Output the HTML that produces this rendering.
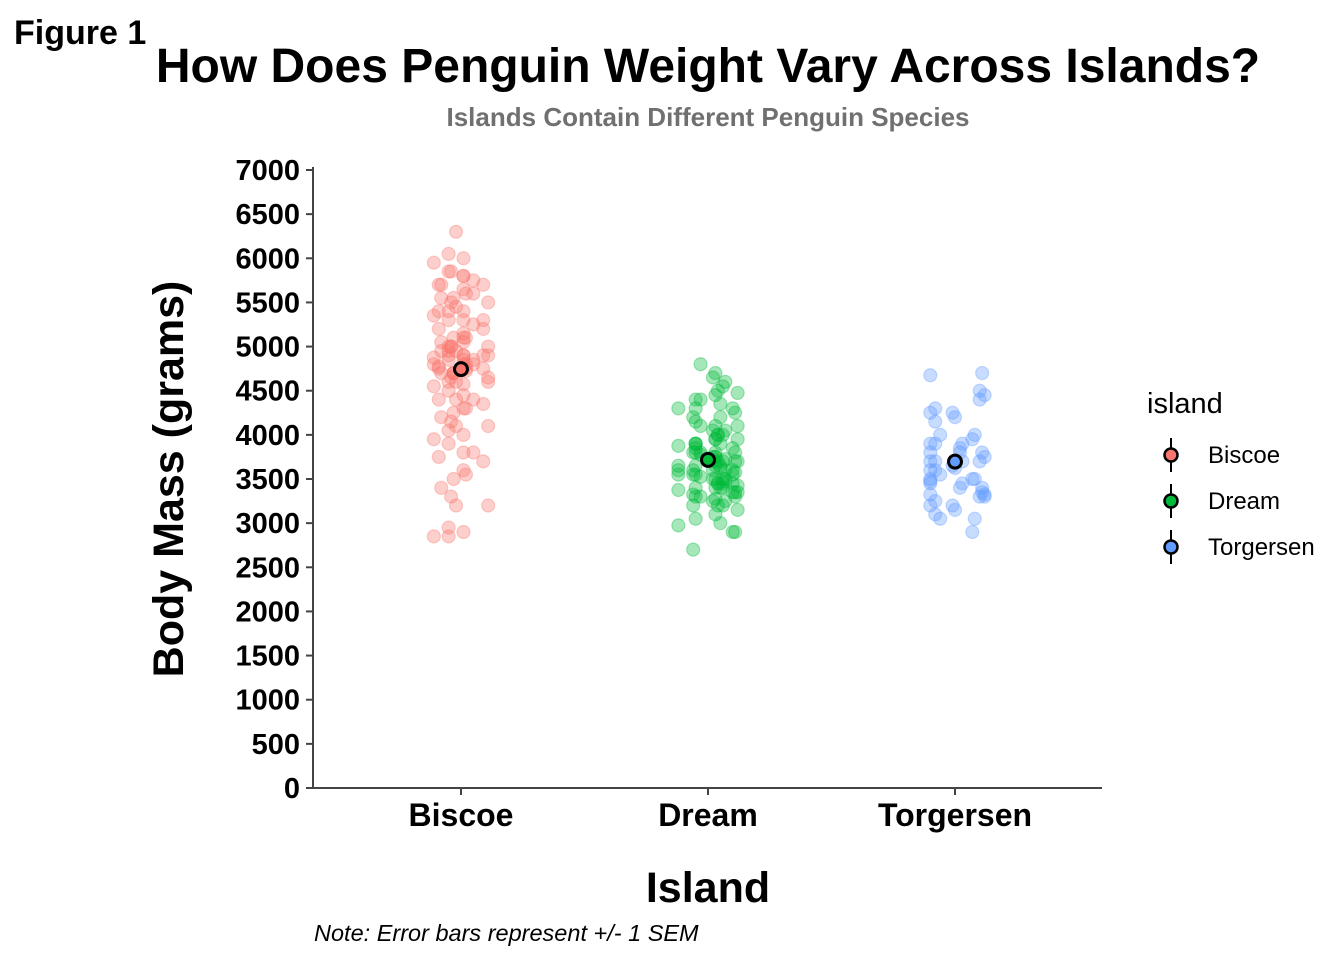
<!DOCTYPE html>
<html><head><meta charset="utf-8"><style>
body{margin:0;background:#fff;}
svg text{font-family:"Liberation Sans",Arial,sans-serif;}
</style></head><body>
<svg id="chart" width="1344" height="960" xmlns="http://www.w3.org/2000/svg">
<text x="14" y="44" font-size="34" font-weight="bold">Figure 1</text>
<text x="708" y="82" font-size="48" font-weight="bold" text-anchor="middle">How Does Penguin Weight Vary Across Islands?</text>
<text x="708" y="126" font-size="26" font-weight="bold" fill="#707070" text-anchor="middle">Islands Contain Different Penguin Species</text>
<g id="yaxis"></g>
<g id="xaxis"></g>
<g id="points"></g>
<g id="means"></g>
<line x1="313" y1="167" x2="313" y2="788" stroke="#444" stroke-width="2"/>
<line x1="312" y1="788" x2="1102" y2="788" stroke="#444" stroke-width="2"/>
<text transform="translate(183,479) rotate(-90)" font-size="43" font-weight="bold" text-anchor="middle">Body Mass (grams)</text>
<text x="708" y="902" font-size="43" font-weight="bold" text-anchor="middle">Island</text>
<text x="314" y="941" font-size="23.5" font-style="italic">Note: Error bars represent +/- 1 SEM</text>
<g id="legend">
<text x="1147" y="413" font-size="29">island</text>
</g>
</svg>
<script>
const categories = ["Biscoe","Dream","Torgersen"];
const colors = ["#F8766D","#00BA38","#619CFF"];
const yTicks = [0,500,1000,1500,2000,2500,3000,3500,4000,4500,5000,5500,6000,6500,7000];
const biscoeMass = [6300,6050,6000,5950,5850,5800,5750,5700,5700,5650,5600,5550,5550,5500,5500,5450,5400,5400,5350,5300,5300,5250,5200,5200,5150,5100,5100,5050,5000,5000,4950,4900,4900,4875,4850,4800,4800,4775,4750,4750,4725,4700,4700,4650,4650,4600,4600,4575,4550,4500,4450,4400,4400,4350,4300,4300,4250,4200,4150,4100,4100,4050,4000,3950,3900,3800,3800,3750,3700,3600,3550,3500,3400,3300,3200,3200,2950,2900,2850,2850,5800,5600,5400,5300,4850,4750,4700,5700,5850,4600,4400,5000,4900,4800,4950,5100,4850,4750,4900,5050,4800,4700,4950,5000,4900];
const dreamMass = [4800,4700,4650,4600,4550,4500,4475,4450,4400,4350,4300,4300,4250,4200,4150,4100,4100,4050,4050,4000,4000,3950,3950,3900,3900,3875,3850,3800,3800,3800,3775,3750,3750,3725,3700,3700,3700,3650,3650,3625,3600,3600,3575,3550,3550,3525,3500,3500,3475,3450,3450,3425,3400,3400,3400,3375,3350,3350,3325,3300,3300,3275,3250,3250,3200,3200,3150,3100,3050,3000,2975,2900,2900,2700,3900,3800,3700,3600,3500,3400,4000,4100,3950,3850,3650,3550,3450,3300,3200,4300,4400,3750,3700,3600,3500,3450,3350,3800,3900,4200,3650,3550,3700,3600];
const torgersenMass = [4700,4675,4450,4400,4300,4250,4250,4200,4150,4000,4000,3950,3900,3900,3850,3800,3800,3750,3700,3700,3700,3650,3625,3600,3550,3500,3500,3450,3450,3400,3350,3325,3300,3300,3250,3200,3200,3150,3100,3050,3050,2900,3600,3700,3800,3400,3500,3325,4500,3900,3475];
const jitter = [-2,-7,10,-3,-9,9,11,-5,5,-8,3,10,-2,-10,1,6,-6,2,8,-4,12,-11,4,-1,7,-9,0,10,-5,3,-12,6,-3,9,-8,1,11,-7,4,-2,8,-10,5,-6,2,12,-4,7,-1,-9,10,-3,3,-11,6,0,9,-7,4,-5,11,-2,-8,1,7,-10,5,-4,12,-6,2,9,-1,-12,6,-9,8,-3,3,-11,10,-5,0,7,-8,4,-2,11,-7,1,-10,-4,9,5,-6,8,-2,3,11,-9,6,-5,10,-1,2];
const series = [biscoeMass, dreamMass, torgersenMass];

const NS="http://www.w3.org/2000/svg";
const y0=788, yTop=170, yMax=7000;
function yScale(v){return y0-(v/yMax)*(y0-yTop);}
function xScale(i){return 461+i*247;}
const bandPx=247;
function mk(tag,attrs,parent){const e=document.createElementNS(NS,tag);for(const k in attrs)e.setAttribute(k,attrs[k]);parent.appendChild(e);return e;}

const ya=document.getElementById('yaxis');
yTicks.forEach(t=>{
  const l=mk('line',{x1:306,x2:313,y1:yScale(t),y2:yScale(t),stroke:'#444','stroke-width':2},ya);
  
  
  const tx=mk('text',{x:300,y:yScale(t)+10,'font-size':29,'font-weight':'bold','text-anchor':'end'},ya);
  tx.textContent=t;
  
  
});
const xa=document.getElementById('xaxis');
categories.forEach((c,i)=>{
  const l=mk('line',{x1:xScale(i),x2:xScale(i),y1:788,y2:795,stroke:'#444','stroke-width':2},xa);
  
  
  const tx=mk('text',{x:xScale(i),y:826,'font-size':32,'font-weight':'bold','text-anchor':'middle'},xa);
  tx.textContent=c;
  
  
});
const pg=document.getElementById('points');
series.forEach((arr,i)=>{
  arr.forEach((v,j)=>{
    const jx=jitter[(j*7+i*3)%jitter.length]/100*bandPx;
    const c=mk('circle',{cx:xScale(i)+jx,cy:yScale(v),r:6.5,fill:colors[i],'fill-opacity':0.35,stroke:colors[i],'stroke-opacity':0.35,'stroke-width':1.2},pg);
    
    
  });
});
const mg=document.getElementById('means');
series.forEach((arr,i)=>{
  const n=arr.length, m=arr.reduce((a,b)=>a+b,0)/n;
  const sd=Math.sqrt(arr.reduce((a,b)=>a+(b-m)*(b-m),0)/(n-1)), se=sd/Math.sqrt(n);
  const l=mk('line',{x1:xScale(i),x2:xScale(i),y1:yScale(m+se),y2:yScale(m-se),stroke:'#000','stroke-width':2},mg);
  
  
  const c=mk('circle',{cx:xScale(i),cy:yScale(m),r:6.5,fill:colors[i],stroke:'#000','stroke-width':3},mg);
  
  
});
const lg=document.getElementById('legend');
categories.forEach((c,i)=>{
  const y=455+i*46;
  const l=mk('line',{x1:1171,x2:1171,y1:y-17,y2:y+17,stroke:'#000','stroke-width':2},lg);
  
  
  const k=mk('circle',{cx:1171,cy:y,r:6.5,fill:colors[i],stroke:'#000','stroke-width':2.5},lg);
  
  
  const t=mk('text',{x:1208,y:y+8,'font-size':24},lg);
  t.textContent=c;
  
  
});
</script>
</body></html>
